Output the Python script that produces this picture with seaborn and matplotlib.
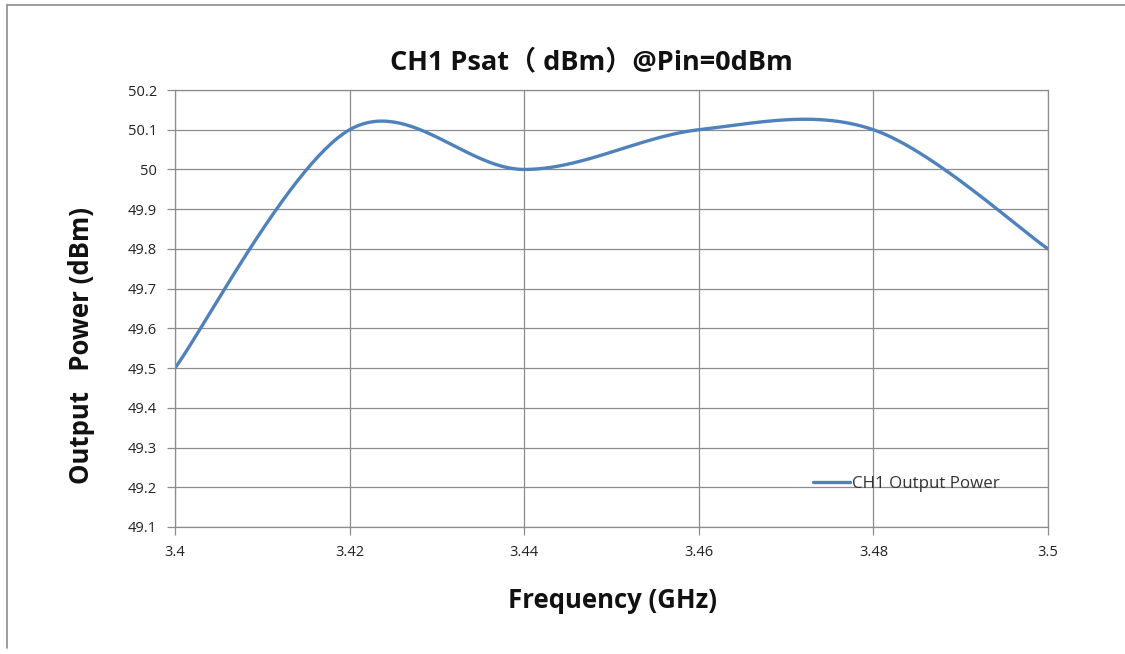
import numpy as np
import pandas as pd
import matplotlib
matplotlib.use("Agg")
import matplotlib.pyplot as plt
import seaborn as sns
from matplotlib.lines import Line2D

# ---- data ----
freq_ghz = [3.40, 3.42, 3.44, 3.46, 3.48, 3.50]
output_power_dbm = [49.5, 50.1, 50.0, 50.1, 50.1, 49.8]
series_name = "CH1 Output Power"
x_ticks = [3.40, 3.42, 3.44, 3.46, 3.48, 3.50]
x_tick_labels = ["3.4", "3.42", "3.44", "3.46", "3.48", "3.5"]
y_ticks = [49.1, 49.2, 49.3, 49.4, 49.5, 49.6, 49.7, 49.8, 49.9, 50.0, 50.1, 50.2]
y_tick_labels = ["49.1", "49.2", "49.3", "49.4", "49.5", "49.6", "49.7", "49.8", "49.9", "50", "50.1", "50.2"]


def excel_smooth(xs, ys, n=60):
    """Excel-style smoothed line (Catmull-Rom cubic Bezier segments)."""
    P = np.column_stack([xs, ys]).astype(float)
    ext = np.vstack([P[0], P, P[-1]])
    out = []
    t = np.linspace(0, 1, n)[:, None]
    for i in range(len(P) - 1):
        p0, p1, p2, p3 = ext[i], ext[i + 1], ext[i + 2], ext[i + 3]
        c1 = p1 + (p2 - p0) / 6.0
        c2 = p2 - (p3 - p1) / 6.0
        seg = ((1 - t) ** 3) * p1 + 3 * ((1 - t) ** 2) * t * c1 + 3 * (1 - t) * t ** 2 * c2 + t ** 3 * p2
        out.append(seg if i == 0 else seg[1:])
    return np.vstack(out)


sns.set_theme(style="white")
plt.rcParams['font.family'] = ['Open Sans', 'Noto Sans CJK SC', 'DejaVu Sans']

fig = plt.figure(figsize=(11.25, 6.54), dpi=100)
ax = fig.add_axes([175 / 1125, 1 - 527 / 654, (1048 - 175) / 1125, (527 - 90) / 654])

curve = excel_smooth(freq_ghz, output_power_dbm)
df = pd.DataFrame({"freq": curve[:, 0], "power": curve[:, 1]})
sns.lineplot(data=df, x="freq", y="power", ax=ax, color="#4F81BD", linewidth=2.4,
             sort=False, estimator=None, legend=False)

ax.set_xlim(3.40, 3.50)
ax.set_ylim(49.1, 50.2)
ax.set_xticks(x_ticks)
ax.set_xticklabels(x_tick_labels)
ax.set_yticks(y_ticks)
ax.set_yticklabels(y_tick_labels)
ax.grid(True, color="#8c8c8c", linewidth=0.9)
ax.set_axisbelow(True)
for s in ax.spines.values():
    s.set_color("#8c8c8c")
    s.set_linewidth(0.9)
ax.tick_params(axis="both", which="major", length=6, width=0.9, color="#8c8c8c",
               direction="out", labelsize=10.5, labelcolor="#222222", pad=7)
ax.tick_params(axis="y", left=True)
ax.tick_params(axis="x", bottom=True)

ax.set_xlabel("Frequency (GHz)", fontsize=18.5, fontweight="bold", color="#111111")
ax.xaxis.set_label_coords((612 - 175) / 873, 1 - (600 - 90) / 437)
ax.xaxis.label.set_va("center")
ax.set_ylabel("Output   Power (dBm)", fontsize=18.5, fontweight="bold", color="#111111")
ax.yaxis.set_label_coords((82 - 175) / 873, 1 - (346 - 90) / 437)
ax.yaxis.label.set_va("center")

fig.text(591 / 1125, 1 - 62 / 654, "CH1 Psat（ dBm）@Pin=0dBm", ha="center", va="center",
         fontsize=19.5, fontweight="bold", color="#111111",
         family=['Open Sans', 'Noto Sans CJK SC', 'DejaVu Sans'])

handle = Line2D([], [], color="#4F81BD", linewidth=2.4)
ax.legend([handle], [series_name], loc="center left", bbox_to_anchor=(631 / 873, 1 - (484 - 90) / 437),
          frameon=False, fontsize=12.2, handlelength=2.2, handletextpad=0.1,
          borderaxespad=0, labelcolor="#333333")

# outer chart border (top and left)
fig.add_artist(Line2D([7 / 1125, 1.0], [1 - 5 / 654, 1 - 5 / 654], color="#8c8c8c", linewidth=1.2))
fig.add_artist(Line2D([7 / 1125, 7 / 1125], [1 - 5 / 654, 1 - 648 / 654], color="#8c8c8c", linewidth=1.2))

fig.savefig("out.png", dpi=100, facecolor="white")
